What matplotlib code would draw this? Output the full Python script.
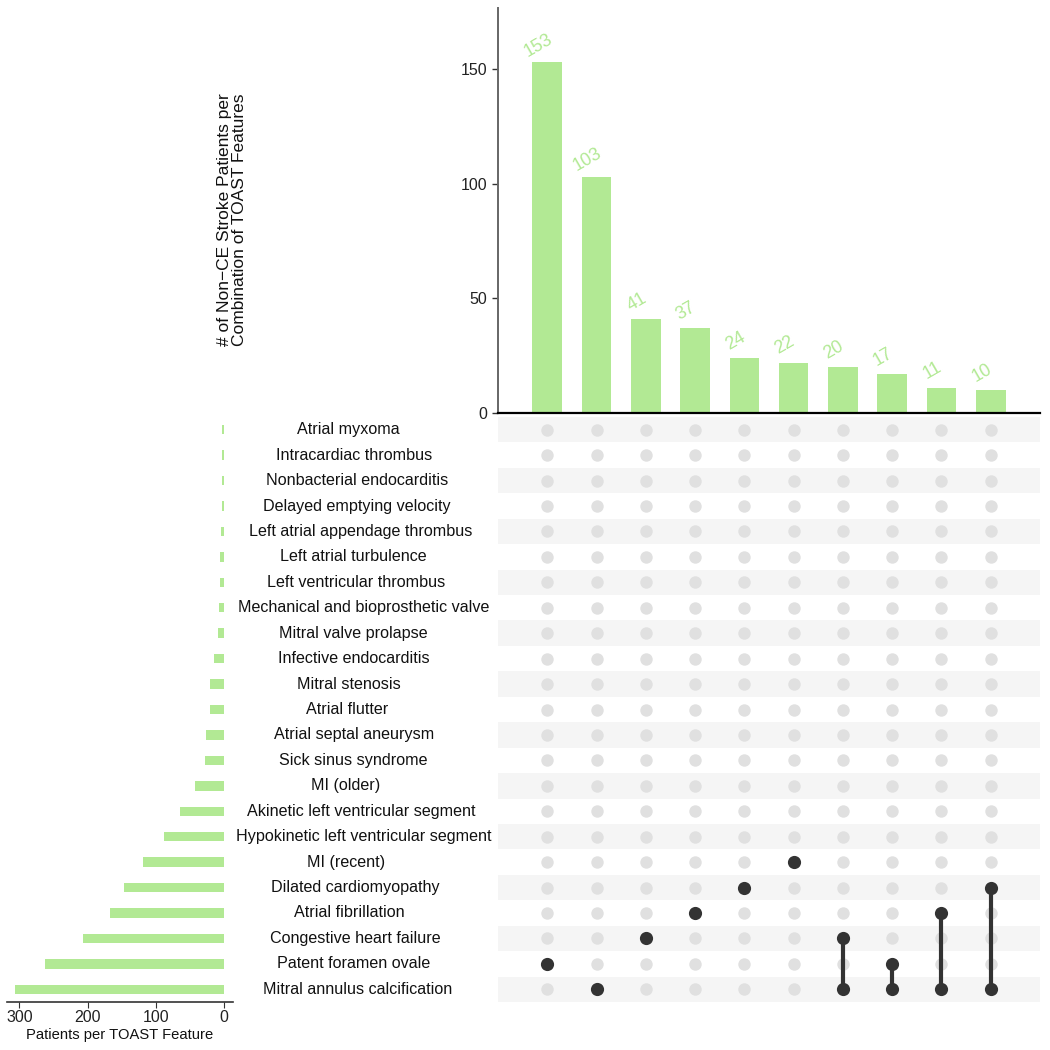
import matplotlib
matplotlib.use("Agg")
import matplotlib.pyplot as plt
from matplotlib.transforms import blended_transform_factory

plt.rcParams['font.family'] = ['Liberation Sans', 'DejaVu Sans']

# ---- data ----
features = [
    "Atrial myxoma", "Intracardiac thrombus", "Nonbacterial endocarditis",
    "Delayed emptying velocity", "Left atrial appendage thrombus",
    "Left atrial turbulence", "Left ventricular thrombus",
    "Mechanical and bioprosthetic valve", "Mitral valve prolapse",
    "Infective endocarditis", "Mitral stenosis", "Atrial flutter",
    "Atrial septal aneurysm", "Sick sinus syndrome", "MI (older)",
    "Akinetic left ventricular segment", "Hypokinetic left ventricular segment",
    "MI (recent)", "Dilated cardiomyopathy", "Atrial fibrillation",
    "Congestive heart failure", "Patent foramen ovale",
    "Mitral annulus calcification",
]
set_sizes = [3, 3, 3, 3, 5, 6, 6, 8, 9, 15, 20, 21, 27, 28, 43, 64, 88,
             118, 146, 167, 207, 263, 306]

intersection_counts = [153, 103, 41, 37, 24, 22, 20, 17, 11, 10]
intersection_sets = [
    ["Patent foramen ovale"],
    ["Mitral annulus calcification"],
    ["Congestive heart failure"],
    ["Atrial fibrillation"],
    ["Dilated cardiomyopathy"],
    ["MI (recent)"],
    ["Congestive heart failure", "Mitral annulus calcification"],
    ["Patent foramen ovale", "Mitral annulus calcification"],
    ["Atrial fibrillation", "Mitral annulus calcification"],
    ["Dilated cardiomyopathy", "Mitral annulus calcification"],
]

top_ticks = [0, 50, 100, 150]
left_ticks = [0, 100, 200, 300]

# ---- styles ----
GREEN = "#B2E994"
STRIPE = "#F5F5F5"
INACTIVE = "#E0E0E0"
ACTIVE = "#333333"
W, H = 1050, 1050

fig = plt.figure(figsize=(10.5, 10.5), dpi=100)

def px_rect(x0, y0, x1, y1):
    return [x0 / W, 1 - y1 / H, (x1 - x0) / W, (y1 - y0) / H]

ax_top = fig.add_axes(px_rect(498, 8, 1040, 413))
ax_mat = fig.add_axes(px_rect(498, 417, 1040, 1002))
ax_left = fig.add_axes(px_rect(7, 417, 233, 1002))

n_rows = len(features)
n_cols = len(intersection_counts)
row_y = {f: n_rows - 1 - i for i, f in enumerate(features)}
cols = list(range(1, n_cols + 1))

# ---- top bars ----
ax_top.bar(cols, intersection_counts, width=0.6, color=GREEN)
for c, v in zip(cols, intersection_counts):
    ax_top.annotate(str(v), xy=(c, v), xytext=(-9, 17), textcoords="offset pixels",
                    ha="center", va="center", rotation=30, color=GREEN, fontsize=13)
ax_top.set_xlim(0, n_cols + 1)
ax_top.set_ylim(0, max(intersection_counts) * 1.155)
ax_top.set_yticks(top_ticks)
ax_top.set_xticks([])
ax_top.tick_params(axis="y", labelsize=11.5, length=4, width=1, colors="#333333",
                   labelcolor="#222222")
for s in ["top", "right"]:
    ax_top.spines[s].set_visible(False)
ax_top.spines["left"].set_color("#666666")
ax_top.spines["left"].set_linewidth(1.4)
ax_top.spines["bottom"].set_color("black")
ax_top.spines["bottom"].set_linewidth(1.6)

fig.text(232 / W, 1 - 220 / H,
         "# of Non\u2212CE Stroke Patients per\nCombination of TOAST Features",
         rotation=90, ha="center", va="center", multialignment="center",
         fontsize=12.5, color="#111111", linespacing=1.0)

# ---- matrix ----
ax_mat.set_xlim(0, n_cols + 1)
ax_mat.set_ylim(-0.5, n_rows - 0.5)
for r in range(n_rows):
    if r % 2 == 0:
        ax_mat.axhspan(r - 0.5, r + 0.5, color=STRIPE, lw=0, zorder=0)
for c in cols:
    ax_mat.scatter([c] * n_rows, list(range(n_rows)), s=80, color=INACTIVE,
                   lw=0, zorder=1)
for c, sets in zip(cols, intersection_sets):
    ys = [row_y[f] for f in sets]
    if len(ys) > 1:
        ax_mat.plot([c, c], [min(ys), max(ys)], color=ACTIVE, lw=3.0,
                    solid_capstyle="butt", zorder=2)
    ax_mat.scatter([c] * len(ys), ys, s=90, color=ACTIVE, lw=0, zorder=3)
ax_mat.axis("off")

trans = blended_transform_factory(fig.transFigure, ax_mat.transData)
renderer = fig.canvas.get_renderer()
for f in features:
    t = ax_mat.text(0, row_y[f], f, transform=trans, ha="center", va="center",
                    fontsize=11.6, color="#111111", clip_on=False)
    w = t.get_window_extent(renderer=renderer).width
    t.set_x((338.5 + 0.1 * w) / W)

# ---- left bars ----
ax_left.barh([row_y[f] for f in features], set_sizes, height=0.37, color=GREEN)
ax_left.set_xlim(318, -13.2)
ax_left.set_ylim(-0.5, n_rows - 0.5)
ax_left.set_yticks([])
ax_left.set_xticks(left_ticks)
ax_left.tick_params(axis="x", labelsize=11.5, length=4, colors="#333333",
                    labelcolor="#222222", pad=2)
for s in ["top", "right", "left"]:
    ax_left.spines[s].set_visible(False)
ax_left.spines["bottom"].set_color("#333333")
ax_left.spines["bottom"].set_linewidth(1.2)
ax_left.set_xlabel("Patients per TOAST Feature", fontsize=10.6, color="#111111",
                   labelpad=2)

fig.savefig("out.png", dpi=100, facecolor="white")
